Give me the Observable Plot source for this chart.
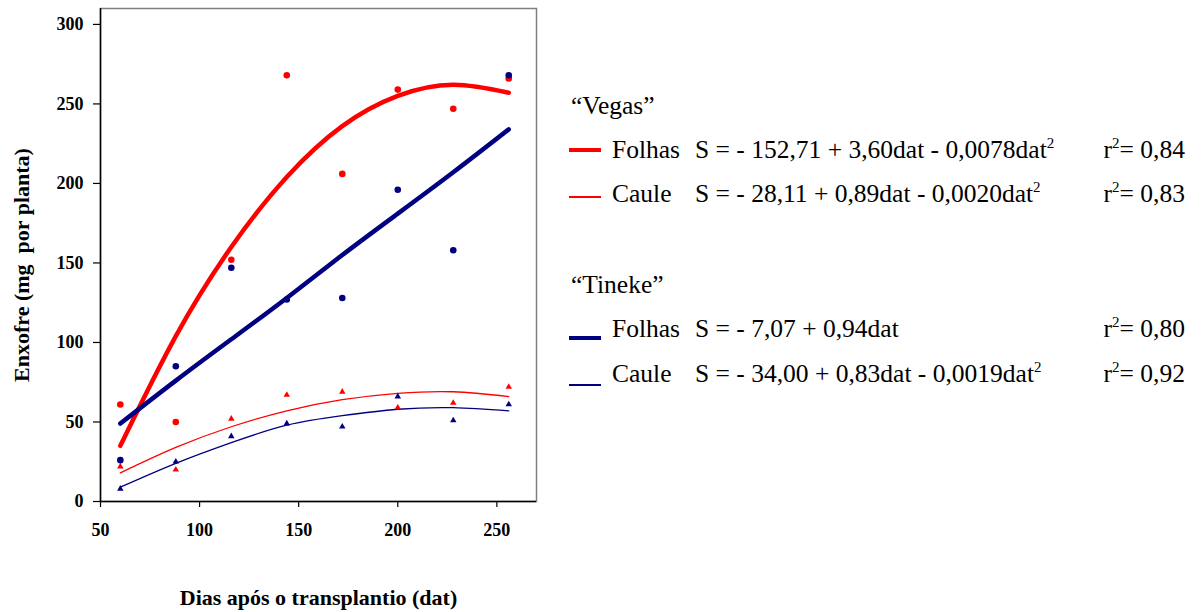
<!DOCTYPE html>
<html>
<head>
<meta charset="utf-8">
<script src="https://cdn.jsdelivr.net/npm/d3@7"></script>
<script src="https://cdn.jsdelivr.net/npm/@observablehq/plot@0.6"></script>
<style>
  body { margin: 0; background: #fff; }
  #wrap { position: relative; width: 1202px; height: 612px; font-family: "Liberation Serif", "Times New Roman", serif; overflow: hidden; }
  #chart { position: absolute; left: 0; top: 0; }
  .lg { position: absolute; font-size: 25.5px; line-height: 25px; white-space: pre; color: #000; }
  .sw { position: absolute; left: 569px; width: 32px; }
  sup { font-size: 15px; line-height: 0; vertical-align: 10px; }
  #chart svg g[aria-label="x-axis tick label"] text,
  #chart svg g[aria-label="y-axis tick label"] text { font-size: 18px; font-weight: bold; }
  #chart svg g[aria-label="x-axis label"] text { font-size: 22px; font-weight: bold; }
</style>
</head>
<body>
<div id="wrap"><div id="chart"></div><div id="legend"></div></div>
<script>
// ---- data ----
const dat = [60, 88, 116, 144, 172, 200, 228, 256];

// observed points
const vegasFolhas  = [61, 50, 152, 268, 206, 259, 247, 266];
const vegasCaule   = [22, 20, 52, 67, 69, 59, 62, 72];
const tinekeFolhas = [26, 85, 147, 127, 128, 196, 158, 268];
const tinekeCaule  = [8, 25, 41, 49, 47, 66, 51, 61];

// fitted curves as drawn
const vegasFolhasFit  = [35, 104, 160, 204, 236, 255, 262, 257];
const vegasCauleFit   = [18, 34, 47, 57, 64, 68, 69, 66];
const tinekeFolhasFit = [49, 76, 102, 128, 155, 181, 207, 234];
const tinekeCauleFit  = [9, 24, 37, 48, 54, 58, 59, 57];

const xTicks = [50, 100, 150, 200, 250];
const yTicks = [0, 50, 100, 150, 200, 250, 300];

const xLabel = "Dias após o transplantio (dat)";
const yLabel = "Enxofre (mg  por planta)";

const legendGroups = ["“Vegas”", "“Tineke”"];
const legendParts = ["Folhas", "Caule", "Folhas", "Caule"];
const legendEquations = [
  "S = - 152,71 + 3,60dat - 0,0078dat²",
  "S = - 28,11 + 0,89dat - 0,0020dat²",
  "S = - 7,07 + 0,94dat",
  "S = - 34,00 + 0,83dat - 0,0019dat²"
];
const legendR2 = ["0,84", "0,83", "0,80", "0,92"];

// ---- styling ----
const RED = "#FF0000";
const NAVY = "#000080";
const FONT = "Liberation Serif, Times New Roman, serif";

const toRows = (ys) => dat.map((d, i) => ({dat: d, value: ys[i]}));

const chart = Plot.plot({
  width: 560,
  height: 612,
  marginLeft: 100,
  marginRight: 24,
  marginTop: 8,
  marginBottom: 111,
  style: {fontFamily: FONT, background: "white", overflow: "visible"},
  x: {domain: [50, 270]},
  y: {domain: [0, 310]},
  marks: [
    Plot.frame({stroke: "#808080", strokeWidth: 1.5}),
    Plot.line(toRows(vegasCauleFit), {x: "dat", y: "value", stroke: RED, strokeWidth: 1.3, curve: "natural"}),
    Plot.line(toRows(tinekeCauleFit), {x: "dat", y: "value", stroke: NAVY, strokeWidth: 1.3, curve: "natural"}),
    Plot.line(toRows(vegasFolhasFit), {x: "dat", y: "value", stroke: RED, strokeWidth: 4.5, curve: "natural"}),
    Plot.line(toRows(tinekeFolhasFit), {x: "dat", y: "value", stroke: NAVY, strokeWidth: 4.5, curve: "natural"}),
    Plot.dot(toRows(vegasCaule), {x: "dat", y: "value", symbol: "triangle", r: 2.4, fill: RED, stroke: "none"}),
    Plot.dot(toRows(tinekeCaule), {x: "dat", y: "value", symbol: "triangle", r: 2.4, fill: NAVY, stroke: "none"}),
    Plot.dot(toRows(vegasFolhas), {x: "dat", y: "value", r: 3.3, fill: RED, stroke: "none"}),
    Plot.dot(toRows(tinekeFolhas), {x: "dat", y: "value", r: 3.3, fill: NAVY, stroke: "none"}),
    Plot.ruleX([50], {stroke: "black", strokeWidth: 1.5}),
    Plot.ruleY([0], {stroke: "black", strokeWidth: 1.5}),
    Plot.axisX({
      ticks: xTicks, tickSize: 6, tickPadding: 16, tickFormat: d => String(d),
      fontSize: 18, fontWeight: "bold", fontFamily: FONT, stroke: "black", strokeWidth: 1.2,
      label: xLabel, labelAnchor: "center", labelOffset: 103, labelArrow: "none"
    }),
    Plot.axisY({
      ticks: yTicks, tickSize: 7, tickPadding: 10, tickFormat: d => String(d),
      fontSize: 18, fontWeight: "bold", fontFamily: FONT, stroke: "black", strokeWidth: 1.2,
      label: null
    }),
    Plot.text([yLabel], {
      frameAnchor: "left", textAnchor: "middle", lineAnchor: "middle", rotate: -90, dx: -79, dy: 10, text: d => d,
      fontSize: 22, fontWeight: "bold", fontFamily: FONT, fill: "black"
    })
  ]
});
document.getElementById("chart").append(chart);

// ---- legend (HTML, right of the chart) ----
const legend = document.getElementById("legend");
const fmtSup = s => s.replace(/²/g, "<sup>2</sup>");
function addText(html, left, top, right) {
  const el = document.createElement("div");
  el.className = "lg";
  el.innerHTML = html;
  el.style.top = top + "px";
  if (right != null) el.style.right = right + "px"; else el.style.left = left + "px";
  legend.append(el);
}
function addSwatch(color, thick, top) {
  const el = document.createElement("div");
  el.className = "sw";
  el.style.background = color;
  el.style.height = thick + "px";
  el.style.top = top + "px";
  legend.append(el);
}
const groupTops = [93, 272];
const rowTops = [137, 181, 316, 361];
const swatchTops = [148, 196, 336, 384];
const swatchColors = [RED, RED, NAVY, NAVY];
const swatchThick = [4, 2, 4, 2];
legendGroups.forEach((g, i) => addText(g, 571, groupTops[i]));
legendParts.forEach((p, i) => {
  addSwatch(swatchColors[i], swatchThick[i], swatchTops[i]);
  addText(p, 612, rowTops[i]);
  addText(fmtSup(legendEquations[i]), 695, rowTops[i]);
  addText("r<sup>2</sup>= " + legendR2[i], null, rowTops[i], 17);
});
</script>
</body>
</html>
